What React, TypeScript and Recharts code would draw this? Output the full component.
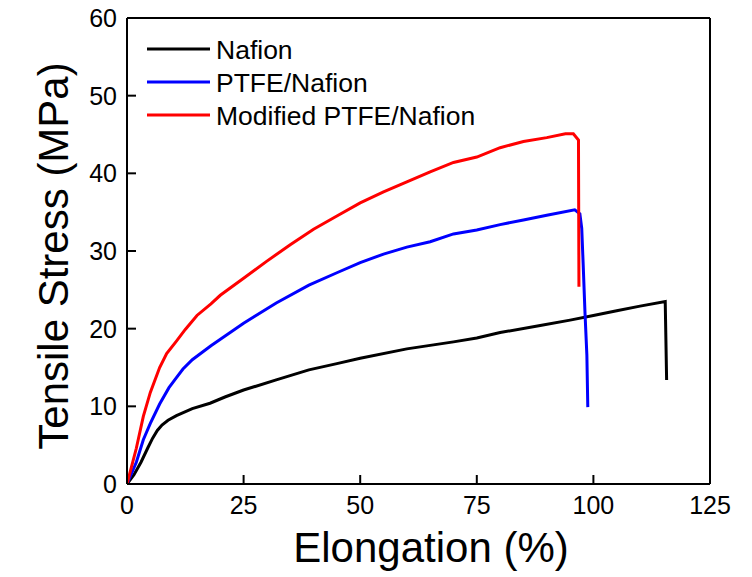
import { LineChart, Line, XAxis, YAxis, ReferenceLine } from 'recharts';

// elongation (%) / tensile stress (MPa)
const nafionX = [0, 1.5, 3, 4.5, 5.5, 6.5, 7.5, 8.8, 10.6, 14, 17.8, 21, 25, 32, 39, 45, 50, 60, 70, 75, 80, 88.6, 95, 100, 105, 110, 115.4, 115.7];
const nafionY = [0, 1.2, 2.8, 4.7, 5.9, 6.9, 7.6, 8.2, 8.8, 9.7, 10.4, 11.2, 12.1, 13.4, 14.7, 15.5, 16.2, 17.4, 18.3, 18.8, 19.5, 20.4, 21.1, 21.7, 22.3, 22.9, 23.5, 13.4];

const ptfeX = [0, 2, 3.5, 5, 7, 9, 10.6, 12, 14, 18, 25, 32, 39, 45, 50, 55, 60, 65, 70, 75, 80, 85, 90, 96, 97.1, 97.5, 97.8, 98.2, 98.6, 98.8];
const ptfeY = [0, 2.8, 5.7, 7.8, 10.3, 12.4, 13.7, 14.8, 16, 17.8, 20.7, 23.3, 25.6, 27.2, 28.5, 29.6, 30.5, 31.2, 32.2, 32.7, 33.4, 34.0, 34.6, 35.3, 34.8, 32.9, 28.4, 22, 16.6, 9.9];

const modX = [0, 2, 3.5, 5, 7, 8.5, 10.6, 12.5, 15, 18, 20, 25, 30, 35, 40, 45, 50, 55, 60, 65, 70, 75, 80, 85, 90, 94, 95.7, 96.8, 96.9];
const modY = [0, 4.6, 8.7, 11.8, 15, 16.8, 18.4, 19.9, 21.7, 23.2, 24.3, 26.5, 28.7, 30.8, 32.8, 34.5, 36.2, 37.6, 38.9, 40.2, 41.4, 42.1, 43.3, 44.1, 44.6, 45.1, 45.1, 44.3, 25.4];

const xTicks = [0, 25, 50, 75, 100, 125];
const yTicks = [0, 10, 20, 30, 40, 50, 60];

const series = [
  { name: 'Nafion', color: '#000000', xs: nafionX, ys: nafionY },
  { name: 'PTFE/Nafion', color: '#0000ff', xs: ptfeX, ys: ptfeY },
  { name: 'Modified PTFE/Nafion', color: '#ff0000', xs: modX, ys: modY },
];

const FONT = '"Liberation Sans", Arial, sans-serif';

const LegendBox = () => (
  <g>
    {series.map((s, i) => (
      <g key={s.name}>
        <line x1={147} x2={210} y1={49 + i * 33} y2={49 + i * 33} stroke={s.color} strokeWidth={3} />
        <text x={216} y={49 + i * 33} dy="0.36em" fontSize={26.5} fontFamily={FONT} fill="#000">
          {s.name}
        </text>
      </g>
    ))}
  </g>
);

const Titles = () => (
  <g fontFamily={FONT} fill="#000">
    <text x={431} y={562} fontSize={42} textAnchor="middle">
      Elongation (%)
    </text>
    <text x={68} y={256} fontSize={42} textAnchor="middle" transform="rotate(-90 68 256)">
      Tensile Stress (MPa)
    </text>
  </g>
);

export default function App() {
  return (
    <div style={{ position: 'absolute', left: 0, top: 0, background: '#fff' }}>
      <LineChart width={752} height={577} margin={{ top: 18, right: 42, left: 0, bottom: 0 }}>
        <XAxis
          type="number"
          dataKey="x"
          domain={[0, 125]}
          ticks={xTicks}
          height={93}
          stroke="#000"
          strokeWidth={2}
          tickSize={-9}
          tickMargin={21}
          tick={{ fill: '#000', fontSize: 25, fontFamily: FONT }}
          allowDataOverflow
        />
        <YAxis
          type="number"
          domain={[0, 60]}
          ticks={yTicks}
          width={127}
          stroke="#000"
          strokeWidth={2}
          tickSize={-9}
          tickMargin={19}
          tick={{ fill: '#000', fontSize: 25, fontFamily: FONT }}
        />
        <ReferenceLine y={60} stroke="#000" strokeWidth={2} />
        <ReferenceLine x={125} stroke="#000" strokeWidth={2} />
        {series.map((s) => (
          <Line
            key={s.name}
            data={s.xs.map((x, i) => ({ x, y: s.ys[i] }))}
            dataKey="y"
            name={s.name}
            type="linear"
            stroke={s.color}
            strokeWidth={3}
            dot={false}
            isAnimationActive={false}
          />
        ))}
        <LegendBox />
        <Titles />
      </LineChart>
    </div>
  );
}
